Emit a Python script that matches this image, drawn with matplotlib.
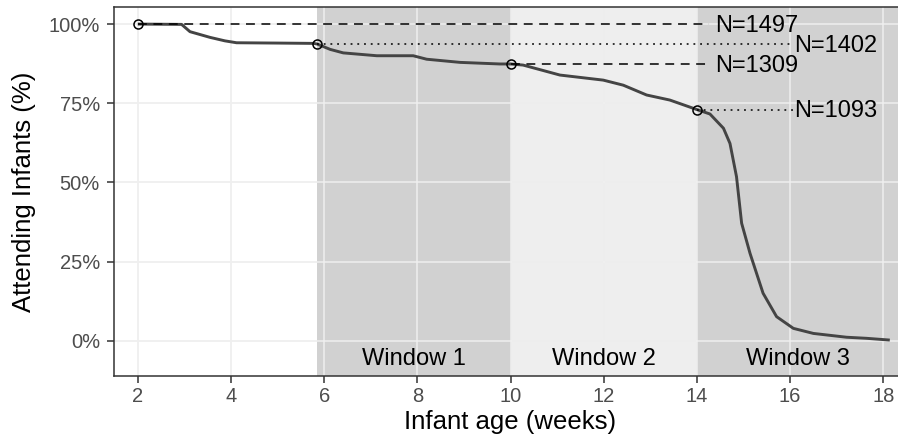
import matplotlib
matplotlib.use("Agg")
import matplotlib.pyplot as plt
from matplotlib.ticker import FuncFormatter

# ---- data ----
age_weeks = [2.0, 2.94, 3.12, 3.55, 3.87, 4.12, 5.0, 5.77, 5.85, 6.13, 6.41, 7.13,
             7.91, 8.20, 8.92, 9.77, 10.0, 10.27, 11.06, 11.99, 12.42, 12.92, 13.42,
             14.0, 14.28, 14.57, 14.71, 14.85, 14.96, 15.14, 15.42, 15.71, 16.07,
             16.50, 17.21, 17.64, 18.14]
attending_pct = [100.0, 99.9, 97.6, 95.8, 94.7, 94.1, 94.0, 93.9, 93.7, 92.0, 90.9, 90.0,
                 90.0, 88.9, 87.9, 87.4, 87.4, 87.05, 83.9, 82.3, 80.7, 77.6, 76.0,
                 73.0, 71.6, 67.1, 62.3, 51.8, 37.1, 27.6, 15.0, 7.6, 3.9,
                 2.3, 1.1, 0.76, 0.2]

total_n = 1497
marker_x = [2, 5.85, 10, 14]
marker_n = [1497, 1402, 1309, 1093]
marker_style = ["dashed", "dotted", "dashed", "dotted"]
line_end_x = [14.27, 16.07, 14.27, 16.07]
label_x = [14.40, 16.08, 14.40, 16.08]

window_names = ["Window 1", "Window 2", "Window 3"]
window_start = [5.85, 10, 14]
window_end = [10, 14, None]
window_colors = ["#D1D1D1", "#EEEEEE", "#D1D1D1"]
window_label_x = [7.925, 12, 16.17]

x_ticks = [2, 4, 6, 8, 10, 12, 14, 16, 18]
y_ticks = [0, 25, 50, 75, 100]
x_lim = (1.50, 18.476)
y_lim = (-11.05, 105.3)

# ---- figure ----
plt.rcParams["font.family"] = ["Liberation Sans", "DejaVu Sans"]
fig = plt.figure(figsize=(8.98, 4.42), dpi=100)
ax = fig.add_axes([0.1275, 0.15, 0.8808, 0.8335])
ax.set_xlim(*x_lim)
ax.set_ylim(*y_lim)

# base grid (under everything)
ax.set_axisbelow(True)
ax.grid(True, color="#EBEBEB", linewidth=1.1, zorder=0)

# window shading
for name, s, e, c, lx in zip(window_names, window_start, window_end, window_colors, window_label_x):
    ee = x_lim[1] if e is None else e
    ax.axvspan(s, ee, facecolor=c, edgecolor="none", zorder=0.5)
    ax.text(lx, -7.7, name, ha="center", va="baseline", fontsize=17, color="black", zorder=5)

# light grid overlay on shaded areas
for xt in x_ticks:
    ax.axvline(xt, color="white", alpha=0.15, linewidth=1.1, zorder=0.6)
for yt in y_ticks:
    ax.axhline(yt, color="white", alpha=0.15, linewidth=1.1, zorder=0.6)

# curve
ax.plot(age_weeks, attending_pct, color="#444444", linewidth=2.1, zorder=3,
        solid_capstyle="butt", solid_joinstyle="round")

# reference lines, markers and labels
for mx, n, st, ex, lx in zip(marker_x, marker_n, marker_style, line_end_x, label_x):
    y = n / total_n * 100
    ls = (0, (5.8, 4.3)) if st == "dashed" else (0, (1.2, 3.2))
    ax.plot([mx, ex], [y, y], color="black", linewidth=1.1, linestyle=ls,
            dash_capstyle="butt", zorder=4)
    ax.plot([mx], [y], marker="o", markersize=6.5, markerfacecolor="none",
            markeredgecolor="black", markeredgewidth=1.1, zorder=6)
    ax.text(lx, y - 2.5, f"N={n}", ha="left", va="baseline", fontsize=17,
            color="black", zorder=6)

# axes styling
ax.set_xticks(x_ticks)
ax.set_yticks(y_ticks)
ax.yaxis.set_major_formatter(FuncFormatter(lambda v, p: f"{v:.0f}%"))
ax.tick_params(axis="both", colors="#333333", width=1.1, length=5, labelsize=14.5,
               labelcolor="#4D4D4D")
ax.tick_params(axis="x", pad=3)
ax.tick_params(axis="y", pad=5.5)
for side in ["left", "bottom", "top"]:
    ax.spines[side].set_color("#333333")
    ax.spines[side].set_linewidth(1.1)
ax.spines["right"].set_visible(False)

ax.set_xlabel("Infant age (weeks)", fontsize=18.5, color="black")
ax.set_ylabel("Attending Infants (%)", fontsize=18.5, color="black")
ax.xaxis.set_label_coords(0.5, -0.093)
ax.yaxis.set_label_coords(-0.099, 0.5)

fig.savefig("out.png", dpi=100)
